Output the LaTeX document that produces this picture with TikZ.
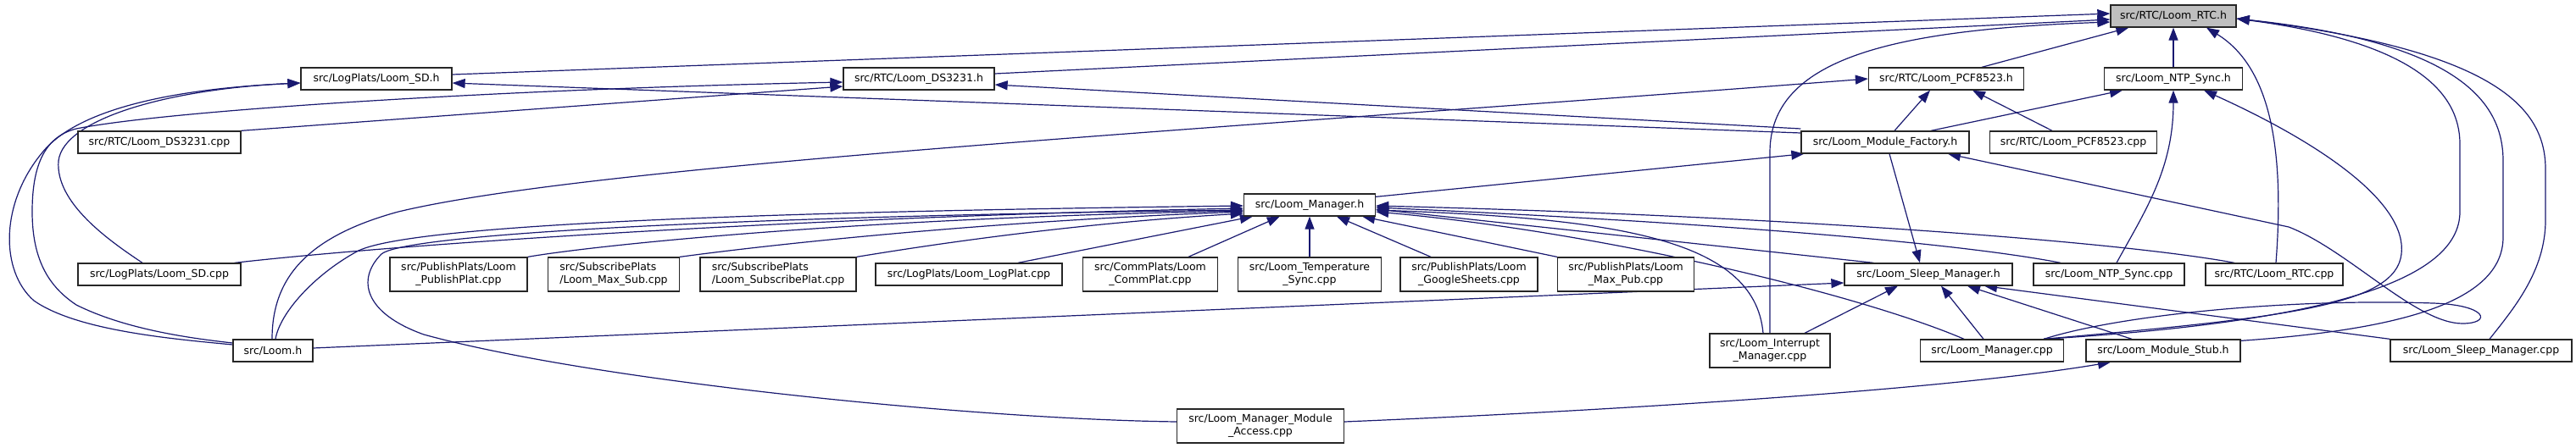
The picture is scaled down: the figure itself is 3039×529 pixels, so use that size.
\documentclass[tikz,border=0pt]{standalone}
\usepackage{fontspec}
\setmainfont{DejaVu Sans}
\usetikzlibrary{arrows.meta}
\definecolor{edgecol}{HTML}{191970}
\definecolor{rootfill}{HTML}{BFBFBF}
\pgfdeclarelayer{bg}
\pgfsetlayers{bg,main}
\begin{document}
\begin{tikzpicture}[x=1pt,y=-1pt,font=\fontsize{12.5}{15}\selectfont,
  box/.style={draw=black!85, line width=1.3pt, fill=white, inner sep=0pt, minimum height=26pt, align=center},
  tall/.style={minimum height=40pt},
  inc/.style={draw=edgecol, line width=1.2pt, arrows={Triangle[length=15pt,width=11pt]-}}]
\useasboundingbox (0,0) rectangle (3039,529);
% nodes
\node[box, fill=rootfill, minimum width=148pt] (rtch) at (2564,19) {src/RTC/Loom\_RTC.h};
\node[box, minimum width=178pt] (sdh) at (444,93) {src/LogPlats/Loom\_SD.h};
\node[box, minimum width=178pt] (ds3231h) at (1084,93) {src/RTC/Loom\_DS3231.h};
\node[box, minimum width=183pt] (pcfh) at (2296,93) {src/RTC/Loom\_PCF8523.h};
\node[box, minimum width=163pt] (ntph) at (2564,93) {src/Loom\_NTP\_Sync.h};
\node[box, minimum width=192pt] (ds3231cpp) at (188,168) {src/RTC/Loom\_DS3231.cpp};
\node[box, minimum width=198pt] (mfh) at (2224,168) {src/Loom\_Module\_Factory.h};
\node[box, minimum width=197pt] (pcfcpp) at (2446,168) {src/RTC/Loom\_PCF8523.cpp};
\node[box, minimum width=155pt] (mgrh) at (1545,242) {src/Loom\_Manager.h};
\node[box, minimum width=192pt] (sdcpp) at (188,324) {src/LogPlats/Loom\_SD.cpp};
\node[box, tall, minimum width=162pt] (pubplat) at (541,324) {src/PublishPlats/Loom\\\_PublishPlat.cpp};
\node[box, tall, minimum width=155pt, align=left] (maxsub) at (724,324) {src/SubscribePlats\\/Loom\_Max\_Sub.cpp};
\node[box, tall, minimum width=184pt, align=left] (subplat) at (918,324) {src/SubscribePlats\\/Loom\_SubscribePlat.cpp};
\node[box, minimum width=220pt] (logplat) at (1143,324) {src/LogPlats/Loom\_LogPlat.cpp};
\node[box, tall, minimum width=159pt] (commplat) at (1357,324) {src/CommPlats/Loom\\\_CommPlat.cpp};
\node[box, tall, minimum width=169pt] (tempsync) at (1545,324) {src/Loom\_Temperature\\\_Sync.cpp};
\node[box, tall, minimum width=162pt] (gsheets) at (1733,324) {src/PublishPlats/Loom\\\_GoogleSheets.cpp};
\node[box, tall, minimum width=161pt] (maxpub) at (1918,324) {src/PublishPlats/Loom\\\_Max\_Pub.cpp};
\node[box, minimum width=198pt] (sleeph) at (2275,324) {src/Loom\_Sleep\_Manager.h};
\node[box, minimum width=178pt] (ntpcpp) at (2488,324) {src/Loom\_NTP\_Sync.cpp};
\node[box, minimum width=162pt] (rtccpp) at (2683,324) {src/RTC/Loom\_RTC.cpp};
\node[box, minimum width=94pt] (loomh) at (322,414) {src/Loom.h};
\node[box, tall, minimum width=142pt] (intmgr) at (2088,414) {src/Loom\_Interrupt\\\_Manager.cpp};
\node[box, minimum width=169pt] (mgrcpp) at (2350,414) {src/Loom\_Manager.cpp};
\node[box, minimum width=182pt] (stubh) at (2552,414) {src/Loom\_Module\_Stub.h};
\node[box, minimum width=214pt] (sleepcpp) at (2927,414) {src/Loom\_Sleep\_Manager.cpp};
\node[box, tall, minimum width=197pt] (access) at (1487,503) {src/Loom\_Manager\_Module\\\_Access.cpp};
\begin{pgfonlayer}{bg}
\fill[white] (0,0) rectangle (3039,529);
% into Loom_RTC.h
\draw[inc] ([yshift=3pt]rtch.west) -- ([yshift=5pt]sdh.east);
\draw[inc] ([yshift=-4pt]rtch.west) -- ([yshift=6pt]ds3231h.east);
\draw[inc] ([xshift=22pt]rtch.south west) -- ([xshift=42pt]pcfh.north);
\draw[inc] (rtch.south) -- (ntph.north);
\draw[inc] ([xshift=39pt]rtch.south) .. controls (2680,80) and (2695,180) .. ([xshift=2pt]rtccpp.north);
\draw[inc] ([yshift=-7pt]rtch.west) .. controls (2230,35) and (2088,70) .. (2088,180) -- (intmgr.north);
\draw[inc] ([yshift=-3pt]rtch.east) .. controls (2850,50) and (2902,110) .. (2902,170) -- (2902,250) .. controls (2902,330) and (2750,380) .. ([xshift=-24pt]mgrcpp.north east);
\draw[inc] ([yshift=-3pt]rtch.east) .. controls (2900,50) and (2953,120) .. (2953,190) -- (2953,280) .. controls (2953,360) and (2820,390) .. ([yshift=-2pt]stubh.north east);
\draw[inc] ([yshift=-3pt]rtch.east) .. controls (2950,60) and (3003,130) .. (3003,200) -- (3003,260) .. controls (3003,320) and (2965,365) .. ([xshift=10pt]sleepcpp.north);
% into Loom_NTP_Sync.h
\draw[inc] ([xshift=-60pt]ntph.south) -- ([xshift=54pt]mfh.north);
\draw[inc] (ntph.south) .. controls (2564,200) and (2530,250) .. ([xshift=9pt]ntpcpp.north);
\draw[inc] ([xshift=36pt]ntph.south) .. controls (2740,170) and (2840,240) .. (2833,300) .. controls (2826,360) and (2700,375) .. ([xshift=-24pt]mgrcpp.north east);
% into Loom_PCF8523.h
\draw[inc] (pcfh.west) .. controls (1400,155) and (700,195) .. (470,250) .. controls (360,280) and (321,330) .. ([xshift=-1pt]loomh.north);
\draw[inc] ([xshift=-19pt]pcfh.south) -- ([xshift=11pt]mfh.north);
\draw[inc] ([xshift=31pt]pcfh.south) -- ([xshift=-25pt]pcfcpp.north);
% into Loom_SD.h
\draw[inc] ([yshift=-5pt]sdh.west) .. controls (200,105) and (90,130) .. (50,180) .. controls (0,240) and (0,320) .. (40,355) .. controls (90,390) and (200,400) .. ([yshift=7pt]loomh.west);
\draw[inc] ([yshift=-5pt]sdh.west) .. controls (200,105) and (75,140) .. (69,190) .. controls (65,240) and (130,285) .. ([xshift=-20pt]sdcpp.north);
\draw[inc] ([yshift=-5pt]sdh.east) -- ([yshift=11pt]mfh.west);
% into Loom_DS3231.h
\draw[inc] ([yshift=-4pt]ds3231h.west) .. controls (600,105) and (200,130) .. (90,152) .. controls (50,162) and (38,200) .. (38,250) .. controls (38,310) and (60,340) .. (90,360) .. controls (150,390) and (230,400) .. ([yshift=9pt]loomh.west);
\draw[inc] ([yshift=-9pt]ds3231h.west) -- (ds3231cpp.north east);
\draw[inc] ([yshift=-7pt]ds3231h.east) -- ([yshift=16pt]mfh.west);
% into Loom_Module_Factory.h
\draw[inc] ([xshift=4pt]mfh.south west) -- ([yshift=-4pt]mgrh.north east);
\draw[inc] ([xshift=74pt]mfh.south) -- (2700,268) .. controls (2770,295) and (2850,382) .. (2905,382) .. controls (2940,382) and (2935,360) .. (2870,358) .. controls (2700,352) and (2500,372) .. ([xshift=-24pt]mgrcpp.north east);
% into Loom_Sleep_Manager.h
\draw[inc] ([xshift=-10pt]sleeph.north) -- ([xshift=5pt]mfh.south);
\draw[inc] ([yshift=-10pt]sleeph.west) -- ([yshift=3pt]loomh.east);
\draw[inc] ([xshift=-36pt]sleeph.south) -- ([xshift=41pt]intmgr.north);
\draw[inc] ([xshift=15pt]sleeph.south) -- ([xshift=-10pt]mgrcpp.north);
\draw[inc] ([xshift=46pt]sleeph.south) -- ([xshift=-37pt]stubh.north);
\draw[inc] ([xshift=66pt]sleeph.south) -- (sleepcpp.north west);
% into Loom_Module_Stub.h
\draw[inc] ([xshift=-62pt]stubh.south) .. controls (2300,460) and (1900,485) .. ([yshift=5pt]access.east);
% into Loom_Manager.h (left)
\draw[inc] ([yshift=-4pt]mgrh.west) .. controls (1000,255) and (500,285) .. ([xshift=-8pt]sdcpp.north east);
\draw[inc] ([yshift=-1pt]mgrh.west) .. controls (900,250) and (480,265) .. (421,297) .. controls (370,325) and (330,370) .. ([xshift=3pt]loomh.north);
\draw[inc] ([yshift=-6pt]mgrh.west) .. controls (900,255) and (480,275) .. (450,300) .. controls (420,330) and (430,370) .. (500,395) .. controls (700,450) and (1150,495) .. ([yshift=5pt]access.west);
\draw[inc] ([yshift=-7pt]mgrh.west) .. controls (1000,258) and (700,290) .. (pubplat.north east);
\draw[inc] ([yshift=-8pt]mgrh.west) .. controls (1150,262) and (900,290) .. (maxsub.north east);
\draw[inc] ([yshift=-10pt]mgrh.west) .. controls (1250,265) and (1080,292) .. (subplat.north east);
% into Loom_Manager.h (bottom)
\draw[inc] ([xshift=11pt]mgrh.south west) -- ([xshift=58pt]logplat.north);
\draw[inc] ([xshift=43pt]mgrh.south west) -- ([xshift=45pt]commplat.north);
\draw[inc] (mgrh.south) -- (tempsync.north);
\draw[inc] ([xshift=32pt]mgrh.south) -- ([xshift=-45pt]gsheets.north);
\draw[inc] ([xshift=-16pt]mgrh.south east) -- (maxpub.north west);
% into Loom_Manager.h (right)
\draw[inc] ([yshift=-6pt]mgrh.east) .. controls (1900,258) and (2070,280) .. ([xshift=-8pt]intmgr.north);
\draw[inc] ([yshift=-8pt]mgrh.east) .. controls (1900,275) and (2200,350) .. ([xshift=-33pt]mgrcpp.north);
\draw[inc] ([yshift=-5pt]mgrh.east) -- ([xshift=35pt]sleeph.north west);
\draw[inc] ([yshift=-3pt]mgrh.east) .. controls (2000,262) and (2300,285) .. ([xshift=-57pt]ntpcpp.north);
\draw[inc] ([yshift=-1pt]mgrh.east) .. controls (2100,255) and (2500,285) .. ([xshift=-47pt]rtccpp.north);
\end{pgfonlayer}
\end{tikzpicture}
\end{document}
